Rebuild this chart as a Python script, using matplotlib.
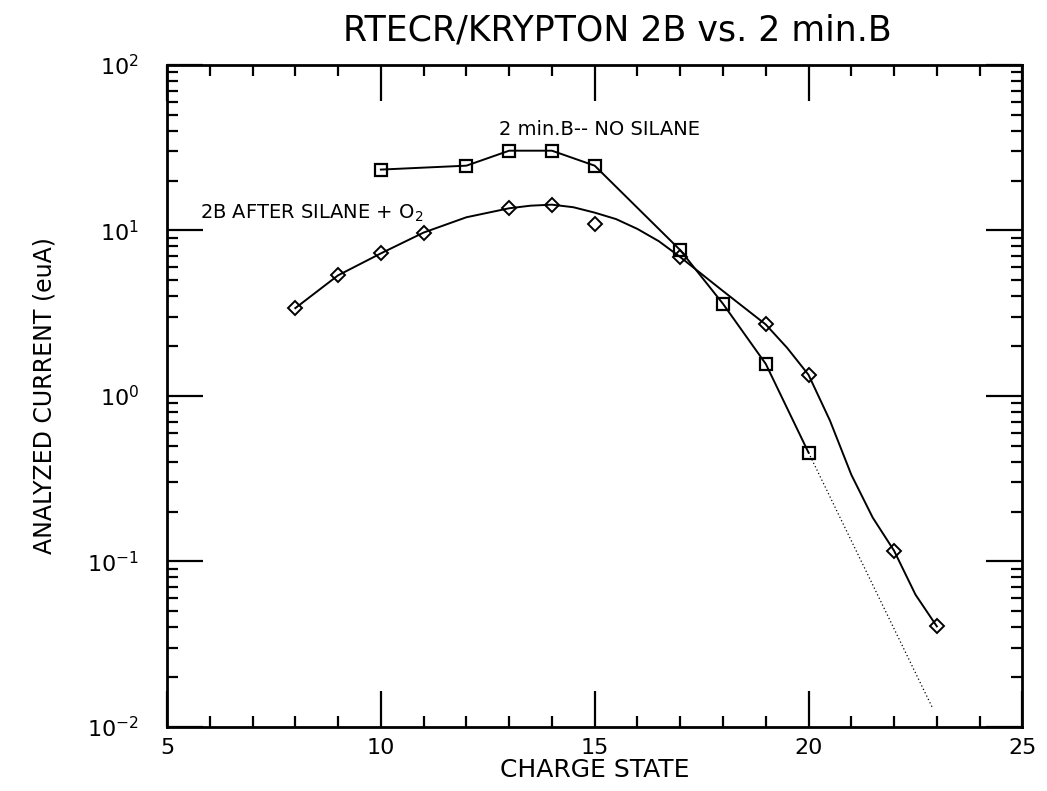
import matplotlib
matplotlib.use('Agg')
import matplotlib.pyplot as plt
from matplotlib.ticker import LogLocator, MultipleLocator, FixedLocator, NullFormatter

# 2 min.B -- no silane (squares)
sq_x = [10, 12, 13, 14, 15, 17, 18, 19, 20]
sq_y = [23.3, 24.6, 30.3, 30.3, 24.6, 7.6, 3.6, 1.56, 0.454]

# dotted extrapolation of the squares
ext_x = [20, 22.9]
ext_y = [0.454, 0.013]

# 2B after silane + O2 (diamonds)
dm_x = [8, 9, 10, 11, 13, 14, 15, 17, 19, 20, 22, 23]
dm_y = [3.39, 5.35, 7.26, 9.7, 13.6, 14.3, 11.0, 6.9, 2.7, 1.34, 0.116, 0.0405]

# hand-drawn smooth curve through the diamonds
cv_x = [8, 9, 10, 11, 12, 13, 13.5, 14, 14.5, 15, 15.5, 16, 16.5, 17, 18,
        19, 19.5, 20, 20.5, 21, 21.5, 22, 22.5, 23]
cv_y = [3.39, 5.35, 7.26, 9.7, 12.0, 13.6, 14.1, 14.3, 13.8, 12.8, 11.7, 10.2,
        8.6, 6.9, 4.3, 2.7, 1.95, 1.34, 0.71, 0.334, 0.184, 0.116, 0.063, 0.0405]

x_ticks = [5, 10, 15, 20, 25]
y_ticks = [1e-2, 1e-1, 1e0, 1e1, 1e2]
y_labels = ['$10^{-2}$', '$10^{-1}$', '$10^{0}$', '$10^{1}$', '$10^{2}$']

fig = plt.figure(figsize=(10.47, 7.91), dpi=100)
ax = fig.add_axes([0.1595, 0.081, 0.817, 0.837])

ax.plot(sq_x, sq_y, color='black', lw=1.4, marker='s', ms=9,
        mfc='none', mec='black', mew=1.6)
ax.plot(ext_x, ext_y, color='black', lw=0.9, ls=(0, (1, 2)))
ax.plot(cv_x, cv_y, color='black', lw=1.4)
ax.plot(dm_x, dm_y, ls='none', marker='D', ms=7, mfc='none',
        mec='black', mew=1.4)

ax.set_yscale('log')
ax.set_xlim(5, 25)
ax.set_ylim(1e-2, 1e2)

ax.xaxis.set_major_locator(FixedLocator(x_ticks))
ax.xaxis.set_minor_locator(MultipleLocator(1))
ax.set_yticks(y_ticks)
ax.set_yticklabels(y_labels)
ax.yaxis.set_minor_locator(LogLocator(base=10, subs=range(2, 10)))
ax.yaxis.set_minor_formatter(NullFormatter())

ax.tick_params(which='both', direction='in', top=True, right=True,
               width=1.6, colors='black', labelsize=16)
ax.tick_params(which='major', length=26)
ax.tick_params(axis='x', which='major', pad=8)
ax.tick_params(axis='y', which='major', pad=20)
ax.tick_params(which='minor', length=8)
for s in ax.spines.values():
    s.set_linewidth(2)

ax.set_xlabel('CHARGE STATE', fontsize=18, labelpad=0)
ax.set_ylabel('ANALYZED CURRENT (euA)', fontsize=17, labelpad=22)
fig.text(0.59, 0.961, 'RTECR/KRYPTON 2B vs. 2 min.B', fontsize=25,
         ha='center', va='center')

ax.text(12.76, 40.6, '2 min.B-- NO SILANE', fontsize=14, ha='left', va='center')
ax.text(5.77, 12.6, '2B AFTER SILANE + O$_2$', fontsize=14, ha='left',
        va='center')

plt.savefig('out.png', dpi=100)
